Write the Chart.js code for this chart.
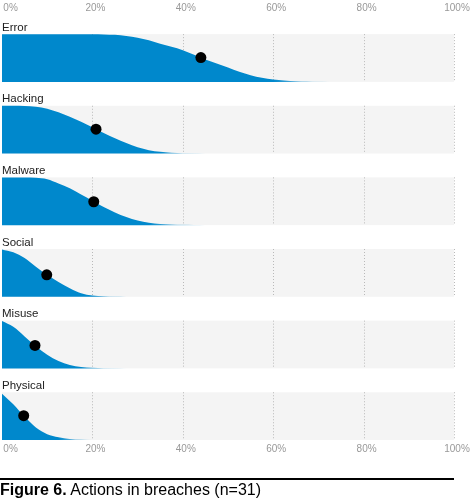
<!DOCTYPE html>
<html>
<head>
<meta charset="utf-8">
<script src="https://cdn.jsdelivr.net/npm/chart.js@4.4.0/dist/chart.umd.min.js"></script>
<style>
  html, body { margin: 0; padding: 0; background: #fff; }
  #wrap { position: relative; width: 471px; height: 503px; }
  #caption {
    position: absolute; left: 0; top: 481px; white-space: nowrap;
    font: 16px 'Liberation Sans', Arial, sans-serif; color: #000;
  }
</style>
</head>
<body>
<div id="wrap">
  <canvas id="actions_chart"></canvas>
  <div id="caption"><b>Figure 6.</b> Actions in breaches (n=31)</div>
</div>
<script>
const actions = ["Error", "Hacking", "Malware", "Social", "Misuse", "Physical"];
const pctSteps = [0, 2.5, 5, 7.5, 10, 12.5, 15, 17.5, 20, 22.5, 25, 27.5, 30, 32.5, 35,
                  37.5, 40, 42.5, 45, 47.5, 50, 52.5, 55, 57.5, 60, 62.5, 65, 67.5, 70, 72.5];

// share of breaches at or above each x (height of the blue slab, 0..1)
const errorShare    = [1, 1, 1, 1, 1, 1, 1, 1, 1, 0.995, 0.985, 0.96, 0.925, 0.87, 0.80,
                       0.735, 0.665, 0.57, 0.47, 0.385, 0.30, 0.21, 0.14, 0.085, 0.05, 0.03, 0.015, 0.007, 0.002, 0];
const hackingShare  = [1, 1, 0.995, 0.98, 0.94, 0.865, 0.77, 0.665, 0.55, 0.43, 0.32, 0.22, 0.13, 0.07, 0.035,
                       0.017, 0.008, 0.003, 0, 0, 0, 0, 0, 0, 0, 0, 0, 0, 0, 0];
const malwareShare  = [1, 1, 1, 0.99, 0.96, 0.87, 0.77, 0.64, 0.51, 0.38, 0.265, 0.17, 0.095, 0.05, 0.025,
                       0.012, 0.006, 0.002, 0, 0, 0, 0, 0, 0, 0, 0, 0, 0, 0, 0];
const socialShare   = [0.99, 0.93, 0.81, 0.63, 0.46, 0.31, 0.18, 0.075, 0.025, 0.01, 0.005, 0.002, 0, 0, 0,
                       0, 0, 0, 0, 0, 0, 0, 0, 0, 0, 0, 0, 0, 0, 0];
const misuseShare   = [0.99, 0.87, 0.67, 0.465, 0.285, 0.155, 0.07, 0.03, 0.012, 0.005, 0.002, 0, 0, 0, 0,
                       0, 0, 0, 0, 0, 0, 0, 0, 0, 0, 0, 0, 0, 0, 0];
const physicalShare = [0.97, 0.75, 0.49, 0.26, 0.12, 0.055, 0.022, 0.008, 0, 0, 0, 0, 0, 0, 0,
                       0, 0, 0, 0, 0, 0, 0, 0, 0, 0, 0, 0, 0, 0, 0];

const medians = [44, 20.8, 20.3, 9.9, 7.3, 4.8];
const medianHeights = [0.51, 0.51, 0.49, 0.46, 0.48, 0.51];

const tickValues = [0, 20, 40, 60, 80, 100];
const tickLabels = ["\u2007\u20070%", "20%", "40%", "60%", "80%", "100%"];

const shares = [errorShare, hackingShare, malwareShare, socialShare, misuseShare, physicalShare];

const BLUE = 'rgb(0,136,204)';
const ROW = 1.5;   // one panel = band (1) + label gap (0.5)
const baseOf = i => (actions.length - 1 - i) * ROW;

function tailFill(share) {
  let last = 0;
  share.forEach((v, i) => { if (v > 0) last = i; });
  const end = pctSteps[Math.min(last + 1, pctSteps.length - 1)];
  const fadeAt = pctSteps[share.findIndex(v => v < 0.06)];
  return (c) => {
    const chart = c.chart;
    if (!chart.chartArea) return BLUE;
    const x = chart.scales.x;
    const g = chart.ctx.createLinearGradient(x.getPixelForValue(fadeAt), 0, x.getPixelForValue(end), 0);
    g.addColorStop(0, BLUE);
    g.addColorStop(1, 'rgba(0,136,204,0.12)');
    return g;
  };
}

// gray bands, dotted grid inside them, row names and the rule above the caption
const panels = {
  id: 'panels',
  beforeDatasetsDraw(chart) {
    const {ctx, scales: {x, y}} = chart;
    const x0 = x.getPixelForValue(0), x1 = x.getPixelForValue(100);
    ctx.save();
    actions.forEach((name, i) => {
      const top = y.getPixelForValue(baseOf(i) + 1);
      const bot = y.getPixelForValue(baseOf(i));
      ctx.fillStyle = '#f4f4f4';
      ctx.fillRect(x0, top, x1 - x0, bot - top);
      ctx.strokeStyle = '#b9b9b9';
      ctx.lineWidth = 1;
      ctx.setLineDash([1, 2]);
      tickValues.slice(1).forEach(v => {
        const px = Math.round(x.getPixelForValue(v)) + 0.5;
        ctx.beginPath();
        ctx.moveTo(px, top);
        ctx.lineTo(px, bot);
        ctx.stroke();
      });
      ctx.setLineDash([]);
    });
    ctx.restore();
  },
  afterDraw(chart) {
    const {ctx, scales: {x, y}} = chart;
    ctx.save();
    ctx.font = "11.5px 'Liberation Sans', Arial, sans-serif";
    ctx.fillStyle = '#222';
    ctx.textBaseline = 'alphabetic';
    actions.forEach((name, i) => {
      const top = y.getPixelForValue(baseOf(i) + 1);
      ctx.fillText(name, x.getPixelForValue(0), top - 3.5);
    });
    ctx.fillStyle = '#000';
    ctx.fillRect(0, chart.height - 25, x.getPixelForValue(100), 2);
    ctx.restore();
  }
};

const datasets = [{
  type: 'scatter',
  data: medians.map((m, i) => ({x: m, y: baseOf(i) + medianHeights[i]})),
  pointRadius: 5.5,
  pointBackgroundColor: '#000',
  pointBorderWidth: 0,
  order: 0
}];
shares.forEach((share, i) => {
  datasets.push({
    type: 'line',
    data: pctSteps.map((p, k) => ({x: p, y: baseOf(i) + share[k]})),
    fill: {value: baseOf(i)},
    backgroundColor: tailFill(share),
    borderColor: 'transparent',
    borderWidth: 0,
    pointRadius: 0,
    cubicInterpolationMode: 'monotone',
    order: 1
  });
});

const tickFont = {family: "'Liberation Sans', Arial, sans-serif", size: 10};
const noPad = scale => { scale.paddingLeft = 0; scale.paddingRight = 0; };
const xAxis = (position, pad) => ({
  type: 'linear',
  position: position,
  min: 0,
  max: 100,
  grid: {display: false, drawTicks: false},
  border: {display: false},
  afterBuildTicks: scale => { scale.ticks = tickValues.map(v => ({value: v})); },
  afterFit: noPad,
  ticks: {
    color: '#999',
    font: tickFont,
    padding: pad,
    labelOffset: 3,
    maxRotation: 0,
    callback: (v, i) => tickLabels[i]
  }
});

new Chart(document.getElementById('actions_chart').getContext('2d'), {
  type: 'line',
  data: {datasets: datasets},
  options: {
    responsive: true,
    maintainAspectRatio: false,
    animation: false,
    layout: {autoPadding: false, padding: {left: 2, right: 17, top: 0, bottom: 45}},
    scales: {
      x: xAxis('bottom', 3),
      xTop: xAxis('top', 2),
      y: {type: 'linear', min: 0, max: 8.88, display: false}
    },
    plugins: {
      legend: {display: false},
      tooltip: {enabled: false}
    }
  },
  plugins: [panels]
});
</script>
</body>
</html>
